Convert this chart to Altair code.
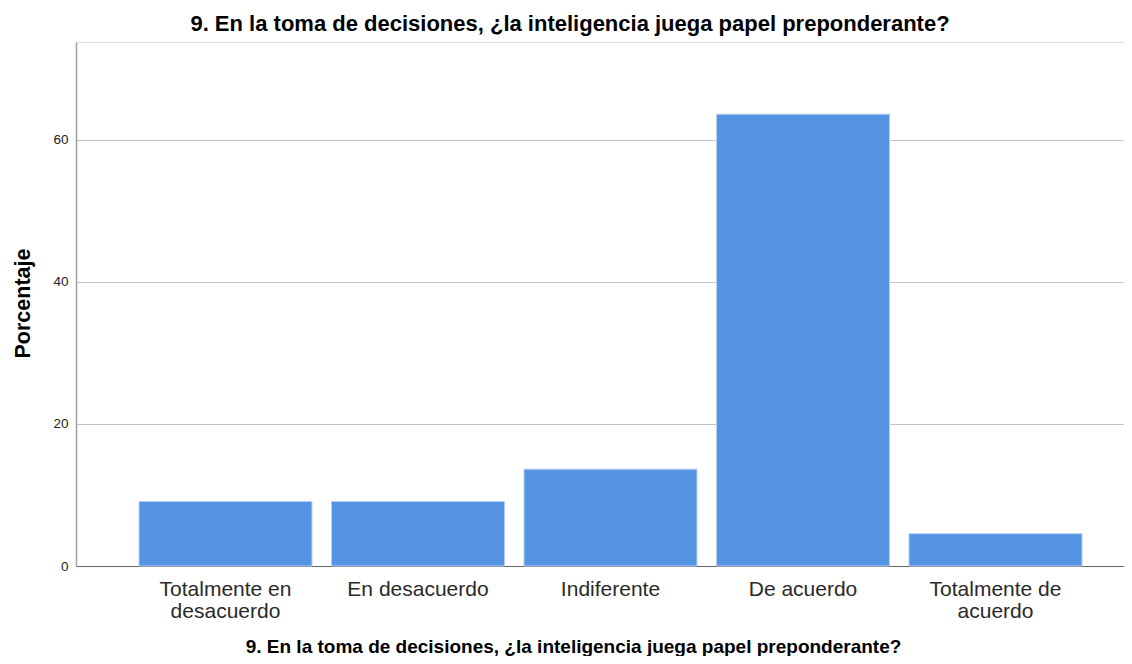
import altair as alt
import pandas as pd

categories = ["Totalmente en desacuerdo", "En desacuerdo", "Indiferente", "De acuerdo", "Totalmente de acuerdo"]
percentages = [9.09, 9.09, 13.64, 63.64, 4.55]
y_ticks = [0, 20, 40, 60]
title_text = "9.  En la toma de decisiones, ¿la inteligencia juega papel preponderante?"
y_title = "Porcentaje"

df = pd.DataFrame({"cat": categories, "pct": percentages})

FONT = "Liberation Sans"

label_expr = (
    "datum.value == 'Totalmente en desacuerdo' ? ['Totalmente en', 'desacuerdo'] : "
    "datum.value == 'Totalmente de acuerdo' ? ['Totalmente de', 'acuerdo'] : datum.label"
)

chart = (
    alt.Chart(df)
    .mark_bar(color="#5594e3", stroke="#b5d0f3", strokeWidth=1)
    .encode(
        x=alt.X(
            "cat:N",
            sort=categories,
            title=title_text,
            scale=alt.Scale(paddingInner=0.1013, paddingOuter=0.2727, align=0.6),
            axis=alt.Axis(
                labelAngle=0,
                labelExpr=label_expr,
                labelFont=FONT,
                labelFontSize=21,
                labelLineHeight=22,
                labelPadding=12,
                labelColor="#2a2a2a",
                labelOverlap=False,
                labelLimit=400,
                ticks=False,
                tickSize=0,
                domainColor="#666666",
                domainWidth=1,
                grid=False,
                titleFont=FONT,
                titleFontSize=19,
                titleFontWeight="bold",
                titleColor="#000000",
                titleX=497,
                titleY=86,
                titleAlign="center",
                titleBaseline="alphabetic",
            ),
        ),
        y=alt.Y(
            "pct:Q",
            title=y_title,
            scale=alt.Scale(domain=[0, 73.8], nice=False, zero=True),
            axis=alt.Axis(
                values=y_ticks,
                grid=True,
                gridColor="#c4c4c4",
                gridWidth=1,
                ticks=False,
                tickSize=0,
                labelPadding=8,
                labelFont=FONT,
                labelFontSize=13.5,
                labelColor="#222222",
                domainColor="#a0a0a0",
                domainWidth=1.5,
                titleFont=FONT,
                titleFontSize=21.5,
                titleFontWeight="bold",
                titleColor="#000000",
                titleX=-47,
                titleY=261,
                titleAlign="center",
                titleBaseline="alphabetic",
            ),
        ),
    )
    .properties(
        width=1048,
        height=524,
        padding={"left": 68, "top": 34, "right": 0, "bottom": 90},
        autosize=alt.AutoSizeParams(type="none"),
        title=alt.TitleParams(
            text=title_text,
            font=FONT,
            fontSize=22,
            fontWeight="bold",
            color="#000000",
            anchor="middle",
            frame="group",
            dx=-30,
            dy=21,
            offset=10,
            baseline="alphabetic",
        ),
    )
    .configure_view(stroke=None)
    .configure(background="#ffffff")
)

chart.save("out.html", embed_options={"renderer": "svg", "actions": False})
